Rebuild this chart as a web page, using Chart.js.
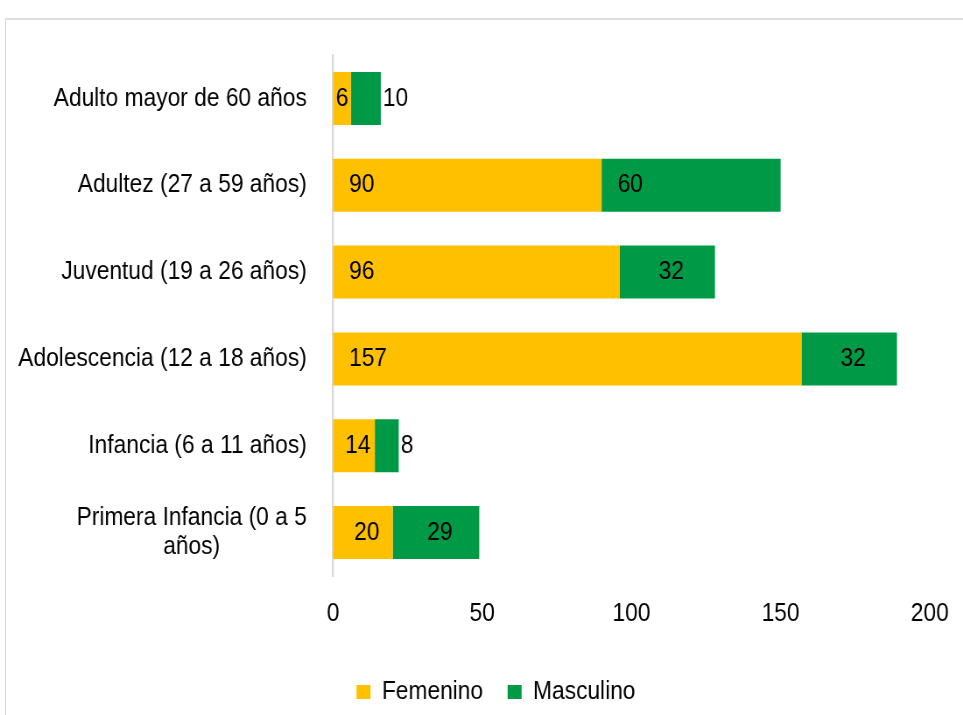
<!DOCTYPE html>
<html>
<head>
<meta charset="utf-8">
<script src="https://cdn.jsdelivr.net/npm/chart.js@4.4.1/dist/chart.umd.min.js"></script>
<style>
  html, body { margin: 0; padding: 0; background: #fff; overflow: hidden; width: 963px; height: 715px; }
  #frame { position: absolute; left: 5px; top: 18px; width: 1000px; height: 720px;
           border-top: 2px solid #dedede; border-left: 1px solid #d9d9d9; }
  #wrap { position: absolute; left: 0; top: 0; width: 1100px; height: 715px;
          transform: scaleX(0.8755); transform-origin: 0 0; }
</style>
</head>
<body>
<div id="frame"></div>
<div id="wrap"><canvas id="c" width="1100" height="715"></canvas></div>
<script>
const categories = [
  'Adulto mayor de 60 años',
  'Adultez (27 a 59 años)',
  'Juventud (19 a 26 años)',
  'Adolescencia (12 a 18 años)',
  'Infancia (6 a 11 años)',
  ['Primera Infancia (0 a 5', 'años)']
];
const femenino  = [6, 90, 96, 157, 14, 20];
const masculino = [10, 60, 32, 32, 8, 29];
const seriesNames = ['Femenino', 'Masculino'];
const xTicks = [0, 50, 100, 150, 200];

const SX = 0.8755;               // horizontal compression of the page
const FONT = '"Liberation Sans", Arial, sans-serif';

const catLabels = {
  id: 'catLabels',
  afterDraw(chart) {
    const ctx = chart.ctx, y = chart.scales.y;
    ctx.save();
    ctx.font = '26px ' + FONT;
    ctx.fillStyle = '#000';
    ctx.textBaseline = 'middle';
    const rightX = chart.chartArea.left - 30;
    categories.forEach((lab, i) => {
      const cy = y.getPixelForValue(i);
      const lines = Array.isArray(lab) ? lab : [lab];
      if (lines.length === 1) {
        ctx.textAlign = 'right';
        ctx.fillText(lines[0], rightX, cy);
      } else {
        const w = Math.max(...lines.map(l => ctx.measureText(l).width));
        const cx = rightX - w / 2;
        ctx.textAlign = 'center';
        lines.forEach((l, k) => ctx.fillText(l, cx, cy + (k - (lines.length - 1) / 2) * 29));
      }
    });
    ctx.restore();
  }
};

const valueLabels = {
  id: 'valueLabels',
  afterDatasetsDraw(chart) {
    const ctx = chart.ctx;
    ctx.save();
    ctx.font = '26px ' + FONT;
    ctx.fillStyle = '#000';
    ctx.textBaseline = 'middle';
    const last = chart.data.datasets.length - 1;
    chart.data.datasets.forEach((ds, di) => {
      const meta = chart.getDatasetMeta(di);
      meta.data.forEach((bar, i) => {
        const txt = String(ds.data[i]);
        const start = Math.min(bar.base, bar.x), end = Math.max(bar.base, bar.x);
        const realW = (end - start) * SX;
        if (di === last && realW < 40) {
          ctx.textAlign = 'left';
          ctx.fillText(txt, end + 2 / SX, bar.y);
        } else if (realW >= 100) {
          ctx.textAlign = 'left';
          ctx.fillText(txt, start + 16 / SX, bar.y);
        } else {
          ctx.textAlign = 'center';
          const nudge = realW > 30 ? 4 / SX : 0;
          ctx.fillText(txt, (start + end) / 2 + nudge, bar.y);
        }
      });
    });
    ctx.restore();
  }
};

new Chart(document.getElementById('c'), {
  type: 'bar',
  data: {
    labels: categories,
    datasets: [
      { label: seriesNames[0], data: femenino, backgroundColor: '#FFC000', borderWidth: 0,
        categoryPercentage: 1, barPercentage: 0.61 },
      { label: seriesNames[1], data: masculino, backgroundColor: '#009A46', borderWidth: 0,
        categoryPercentage: 1, barPercentage: 0.61 }
    ]
  },
  options: {
    indexAxis: 'y',
    responsive: false,
    animation: false,
    devicePixelRatio: 1,
    layout: { padding: { top: 55, right: 38, left: 71, bottom: 0 } },
    scales: {
      x: {
        stacked: true, min: 0, max: 200,
        afterBuildTicks(scale) { scale.ticks = xTicks.map(v => ({ value: v })); },
        afterFit(scale) { scale.height = 75; scale.paddingRight = 0; scale.paddingLeft = 0; },
        grid: { display: false, drawTicks: false },
        border: { display: false },
        ticks: { padding: 22, color: '#000', font: { size: 26, family: FONT } }
      },
      y: {
        stacked: true,
        afterFit(scale) { scale.width = 309.4; },
        grid: { display: false, drawTicks: false },
        border: { display: true, color: '#d9d9d9', width: 2.3 },
        ticks: { display: false }
      }
    },
    plugins: {
      legend: {
        position: 'bottom',
        labels: { color: '#000', font: { size: 26, family: FONT }, boxWidth: 16, boxHeight: 14, padding: 28 }
      },
      tooltip: { enabled: false }
    }
  },
  plugins: [catLabels, valueLabels]
});
</script>
</body>
</html>
